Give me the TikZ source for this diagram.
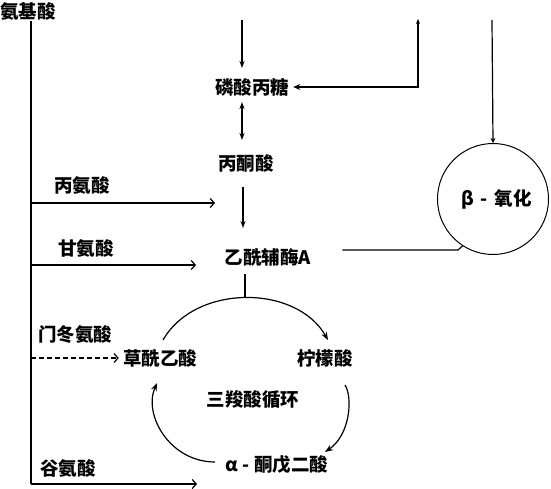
\documentclass[tikz,border=0pt]{standalone}
\usepackage{fontspec}
\newfontfamily\cjk{Noto Sans CJK SC}
\usetikzlibrary{arrows.meta,calc}
\begin{document}
\begin{tikzpicture}[x=1pt,y=-1pt,
  lbl/.style={font=\cjk\bfseries\fontsize{18.5}{18.5}\selectfont, inner sep=1pt},
  ln/.style={line width=1.2pt},
  varr/.style={ln,-{Stealth[length=7pt,width=5pt]}},
  harr/.style={ln,-{Straight Barb[length=4pt,width=9pt]}},
  carr/.style={ln,-{Stealth[length=8pt,width=6pt]}}]
\useasboundingbox (0,0) rectangle (551,489);
% nodes
\node[lbl] (amino) at (28,11) {氨基酸};
\node[lbl] (alaL) at (82,185) {丙氨酸};
\node[lbl] (glyL) at (86,248) {甘氨酸};
\node[lbl] (aspL) at (75,334) {门冬氨酸};
\node[lbl] (gluL) at (68,468) {谷氨酸};
\node[lbl] (p) at (252,87) {磷酸丙糖};
\node[lbl] (pyr) at (246,163) {丙酮酸};
\node[lbl] (acoa) at (268,257) {乙酰辅酶A};
\node[lbl] (oaa) at (160,358) {草酰乙酸};
\node[lbl] (cit) at (325,358) {柠檬酸};
\node[lbl] (tca) at (253,400) {三羧酸循环};
\node[lbl] (akg) at (277,465) {α\ -\ 酮戊二酸};
\node[lbl, draw, circle, line width=1pt, minimum size=111pt, inner sep=0pt] (beta) at (493,199) {\hspace*{8pt}β\,\,-\,\,氧\hspace{1pt}化};
% coordinates for free ends
\coordinate (tb) at (31,484);
\coordinate (ea) at (215,203);
\coordinate (eg) at (196,265);
\coordinate (ee) at (197,484);
\coordinate (c0) at (242,20);
\coordinate (u) at (418,19);
\coordinate (v) at (492,20);
\coordinate (jn) at (458,250);
\coordinate (ktop) at (245,298);
% amino acid trunk
\draw[ln] (amino.south -| tb) -- (tb);
\draw[harr] (tb |- ea) -- (ea);
\draw[harr] (tb |- eg) -- (eg);
\draw[harr] (tb) -- (ee);
\draw[harr, dash pattern=on 5pt off 3pt, shorten >=3pt] (tb |- oaa) -- (oaa.west);
% centre column
\draw[varr] (c0) -- (242,68);
\draw[ln,{Stealth[length=7pt,width=5pt]}-{Stealth[length=7pt,width=5pt]}] (242,102) -- (242,140);
\draw[varr] (243,187) -- (243,228);
\draw[ln, shorten <=7pt] (ktop |- acoa.south) -- (ktop);
% loop to triose phosphate
\draw[ln,{Stealth[length=5pt,width=4pt]}-{Stealth[length=7pt,width=6pt]}, shorten >=3pt] (u) |- (p.east);
% beta oxidation
\draw[ln,-{Stealth[length=5pt,width=5pt]}] (v) -- (beta.north);
\draw[ln, shorten <=30pt] (acoa.east |- jn) -- (jn) -- (beta.237);
% TCA cycle
\draw[carr] ($(oaa)+(3,-18)$) .. controls (195,284) and (296,284) .. ($(cit)+(3,-18)$);
\draw[carr] ($(cit)+(20,27)$) .. controls (353,398) and (350,435) .. ($(akg)+(48,-13)$);
\draw[carr] ($(akg)+(-62,-3)$) .. controls (170,462) and (143,415) .. ($(oaa)+(-3,25)$);
\end{tikzpicture}
\end{document}
